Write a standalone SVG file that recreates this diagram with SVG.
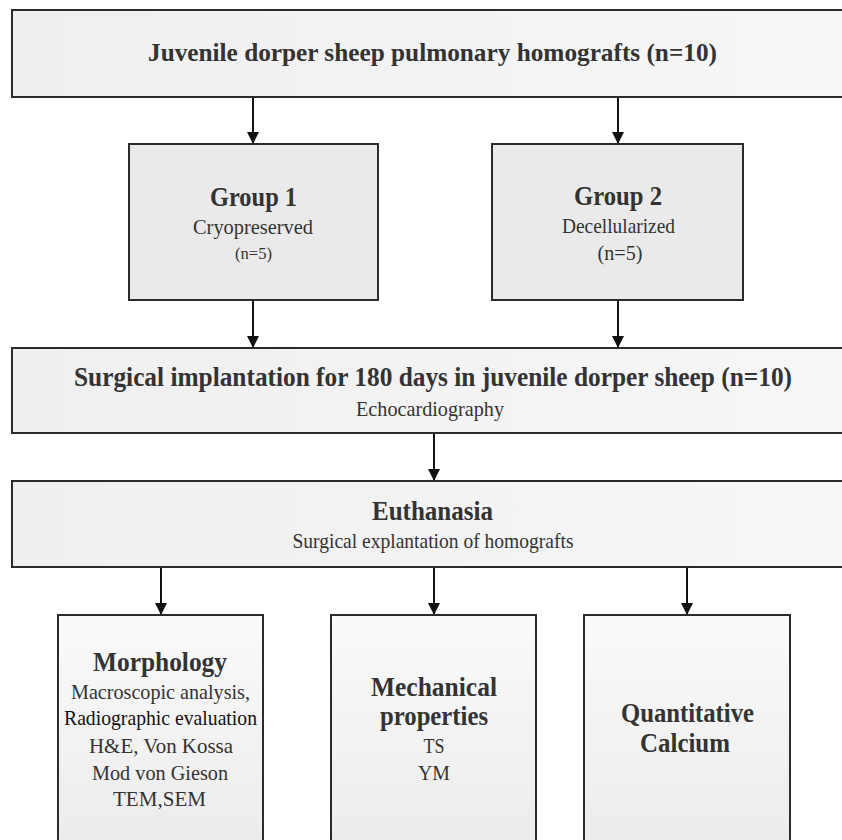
<svg xmlns="http://www.w3.org/2000/svg" width="842" height="840" viewBox="0 0 842 840">
  <defs>
    <linearGradient id="wideFill" x1="0" y1="0" x2="1" y2="0">
      <stop offset="0" stop-color="#efefef"/>
      <stop offset="1" stop-color="#f7f7f7"/>
    </linearGradient>
    <linearGradient id="tallFill" x1="0" y1="0" x2="0" y2="1">
      <stop offset="0" stop-color="#fafafa"/>
      <stop offset="1" stop-color="#ebebeb"/>
    </linearGradient>
    <marker id="arrow" viewBox="0 0 12 12" refX="12" refY="6" markerWidth="12" markerHeight="12" markerUnits="userSpaceOnUse" orient="auto">
      <path d="M0,0 L12,6 L0,12 Z" fill="#111"/>
    </marker>
  </defs>
  <style>
    .box { stroke: #2b2b2b; stroke-width: 2; }
    .wide { fill: url(#wideFill); }
    .group { fill: #eaeaea; }
    .tall { fill: url(#tallFill); }
    text { font-family: "Liberation Serif", "Times New Roman", serif; text-anchor: middle; fill: #333; }
    .h { font-weight: bold; }
    .dark { fill: #111; }
    .link { stroke: #111; stroke-width: 2; fill: none; marker-end: url(#arrow); }
  </style>

  <rect width="842" height="840" fill="#fff"/>

  <g id="connectors">
    <line class="link" x1="253" y1="97" x2="253" y2="144"/>
    <line class="link" x1="618" y1="97" x2="618" y2="144"/>
    <line class="link" x1="253" y1="300" x2="253" y2="348"/>
    <line class="link" x1="618" y1="300" x2="618" y2="348"/>
    <line class="link" x1="434" y1="433" x2="434" y2="481"/>
    <line class="link" x1="161" y1="567" x2="161" y2="615"/>
    <line class="link" x1="434" y1="567" x2="434" y2="615"/>
    <line class="link" x1="687" y1="567" x2="687" y2="615"/>
  </g>

  <g id="source">
    <rect class="box wide" x="12" y="10" width="840" height="87"/>
    <text class="h" x="432.5" y="61" font-size="25" textLength="569" lengthAdjust="spacingAndGlyphs">Juvenile dorper sheep pulmonary homografts (n=10)</text>
  </g>

  <g id="group1">
    <rect class="box group" x="129" y="144" width="249" height="156"/>
    <text class="h" x="253.5" y="206" font-size="27" textLength="87" lengthAdjust="spacingAndGlyphs">Group 1</text>
    <text x="253" y="234" font-size="21" textLength="120" lengthAdjust="spacingAndGlyphs">Cryopreserved</text>
    <text x="253.5" y="259" font-size="16" textLength="37" lengthAdjust="spacingAndGlyphs">(n=5)</text>
  </g>

  <g id="group2">
    <rect class="box group" x="492" y="144" width="251" height="156"/>
    <text class="h" x="618" y="205" font-size="27" textLength="88" lengthAdjust="spacingAndGlyphs">Group 2</text>
    <text x="618.5" y="233" font-size="21" textLength="113" lengthAdjust="spacingAndGlyphs">Decellularized</text>
    <text x="620" y="260" font-size="20" textLength="45" lengthAdjust="spacingAndGlyphs">(n=5)</text>
  </g>

  <g id="implantation">
    <rect class="box wide" x="12" y="348" width="840" height="85"/>
    <text class="h" x="433" y="386" font-size="27" textLength="718" lengthAdjust="spacingAndGlyphs">Surgical implantation for 180 days in juvenile dorper sheep (n=10)</text>
    <text x="430" y="416" font-size="21" textLength="148" lengthAdjust="spacingAndGlyphs">Echocardiography</text>
  </g>

  <g id="euthanasia">
    <rect class="box wide" x="12" y="481" width="840" height="86"/>
    <text class="h" x="432.5" y="520" font-size="27" textLength="121" lengthAdjust="spacingAndGlyphs">Euthanasia</text>
    <text x="433" y="548" font-size="21" textLength="281" lengthAdjust="spacingAndGlyphs">Surgical explantation of homografts</text>
  </g>

  <g id="morphology">
    <rect class="box tall" x="58" y="615" width="205" height="240"/>
    <text class="h" x="160" y="671" font-size="27" textLength="134" lengthAdjust="spacingAndGlyphs">Morphology</text>
    <text x="160.5" y="699" font-size="22" textLength="179" lengthAdjust="spacingAndGlyphs">Macroscopic analysis,</text>
    <text class="dark" x="160.5" y="725" font-size="22" textLength="193" lengthAdjust="spacingAndGlyphs">Radiographic evaluation</text>
    <text x="161" y="753" font-size="22" textLength="144" lengthAdjust="spacingAndGlyphs">H&amp;E, Von Kossa</text>
    <text x="160" y="780" font-size="22" textLength="136" lengthAdjust="spacingAndGlyphs">Mod von Gieson</text>
    <text x="159.5" y="806" font-size="22" textLength="93" lengthAdjust="spacingAndGlyphs">TEM,SEM</text>
  </g>

  <g id="mechanical">
    <rect class="box tall" x="331" y="615" width="205" height="240"/>
    <text class="h" x="434" y="696" font-size="27" textLength="126" lengthAdjust="spacingAndGlyphs">Mechanical</text>
    <text class="h" x="434" y="725" font-size="27" textLength="108" lengthAdjust="spacingAndGlyphs">properties</text>
    <text x="434" y="753" font-size="22" textLength="21" lengthAdjust="spacingAndGlyphs">TS</text>
    <text x="434" y="780" font-size="22" textLength="32" lengthAdjust="spacingAndGlyphs">YM</text>
  </g>

  <g id="calcium">
    <rect class="box tall" x="584" y="615" width="206" height="240"/>
    <text class="h" x="687.5" y="722" font-size="27" textLength="133" lengthAdjust="spacingAndGlyphs">Quantitative</text>
    <text class="h" x="685" y="752" font-size="27" textLength="90" lengthAdjust="spacingAndGlyphs">Calcium</text>
  </g>
</svg>
